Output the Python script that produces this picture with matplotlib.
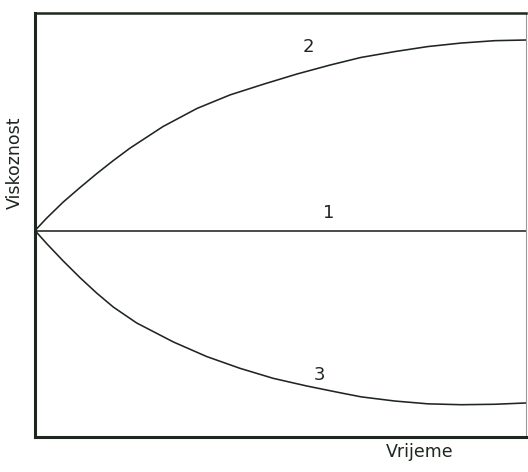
import matplotlib
matplotlib.use("Agg")
import matplotlib.pyplot as plt

# time axis in % of the drawn range, viscosity relative to the start value
t2 = [0, 2.38, 5.76, 9.16, 12.57, 15.95, 19.35, 26.07, 32.99, 39.71,
      46.64, 53.36, 60.08, 66.40, 73.32, 80.04, 86.76, 93.69, 100]
v2 = [0, 5.7, 13.1, 19.7, 26.1, 32.1, 37.8, 47.7, 56.0, 62.2,
      67.2, 71.8, 75.9, 79.4, 82.1, 84.4, 86.0, 87.1, 87.4]

t1 = [0, 100]
v1 = [0, 0]

t3 = [0, 2.38, 5.76, 9.16, 12.57, 15.95, 20.71, 28.17, 34.97, 41.75,
      48.53, 55.34, 62.12, 66.46, 73.26, 80.04, 86.82, 93.62, 100]
v3 = [0, -6.0, -14.0, -21.6, -28.7, -35.1, -42.4, -51.1, -57.8, -63.2,
      -67.8, -71.3, -74.4, -76.3, -78.2, -79.5, -79.9, -79.7, -79.1]

labels = ["1", "2", "3"]
label_pos = [(59.9, 8.0), (55.6, 84.2), (58.0, -66.3)]

ink = "#1f261f"

def main():
    fig = plt.figure(figsize=(5.28, 4.72), dpi=100)
    ax = fig.add_axes([0.0663, 0.0742, 0.9297, 0.8983])

    for t, v in [(t1, v1), (t2, v2), (t3, v3)]:
        ax.plot(t, v, color=ink, lw=1.15, solid_joinstyle="round")

    for lab, (x, y) in zip(labels, label_pos):
        ax.text(x, y, lab, color=ink, fontsize=13, ha="center", va="center")

    ax.set_xlim(0, 100)
    ax.set_ylim(-94.7, 99.8)
    ax.set_xticks([])
    ax.set_yticks([])
    ax.spines["left"].set_linewidth(2.2)
    ax.spines["bottom"].set_linewidth(2.2)
    ax.spines["top"].set_linewidth(1.8)
    ax.spines["right"].set_linewidth(0.8)
    ax.spines["right"].set_color("#9a9a9a")
    for s in ["left", "bottom", "top"]:
        ax.spines[s].set_color(ink)

    fig.text(0.794, 0.042, "Vrijeme", color=ink, fontsize=12.5,
             ha="center", va="center")
    fig.text(0.028, 0.655, "Viskoznost", color=ink, fontsize=12.5,
             ha="center", va="center", rotation=90)

    fig.savefig("out.png", dpi=100)

if __name__ == '__main__':
    main()
